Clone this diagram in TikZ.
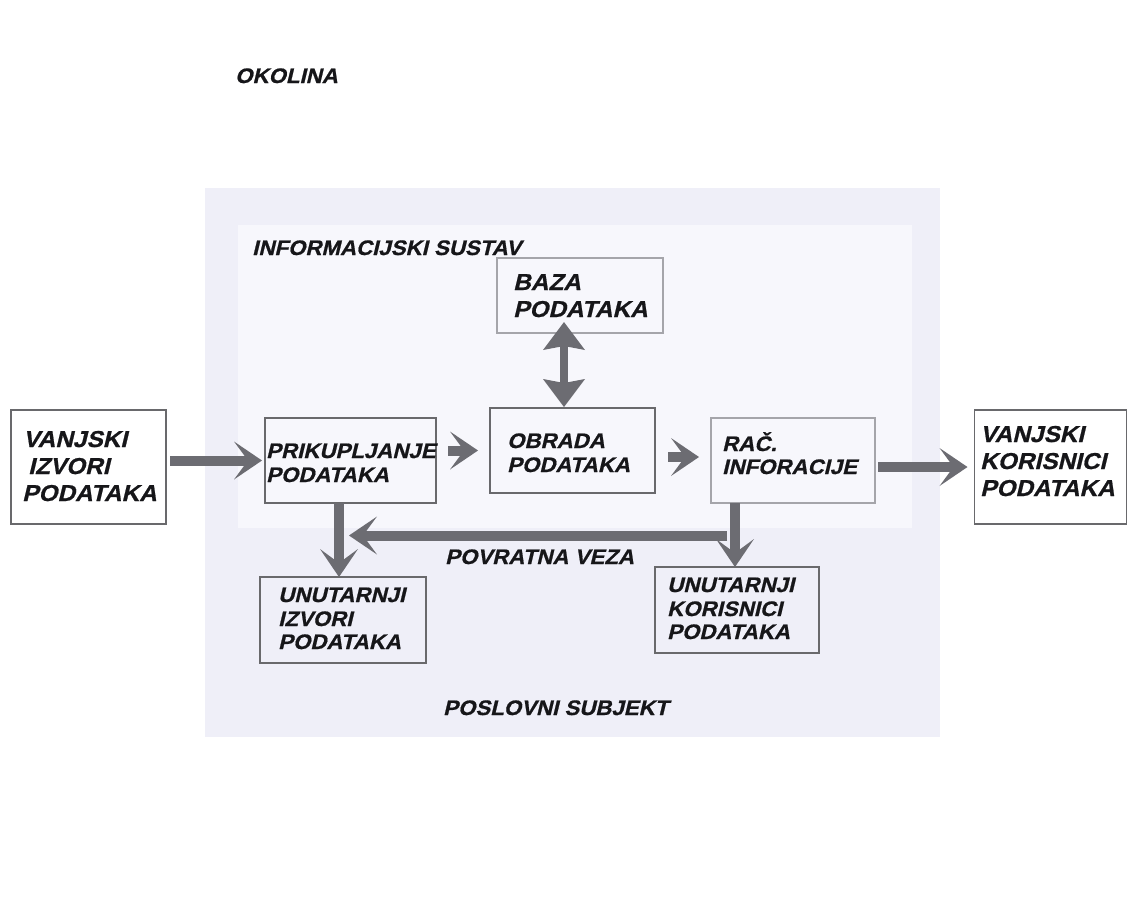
\documentclass[tikz,border=0pt]{standalone}
\usepackage{fontspec}
\newfontfamily\lblfont[FakeSlant=0.24,FakeStretch=1.06,FakeBold=0.8]{Liberation Sans}
\usetikzlibrary{arrows.meta,calc}
\definecolor{outerbg}{RGB}{239,239,248}
\definecolor{innerbg}{RGB}{247,247,252}
\definecolor{arrowgray}{RGB}{108,108,114}
\definecolor{boxline}{RGB}{105,105,108}
\definecolor{boxlight}{RGB}{165,165,170}
\definecolor{txt}{RGB}{22,22,25}
\begin{document}
\begin{tikzpicture}[x=1pt,y=-1pt,
  region/.style={inner sep=0pt,outer sep=0pt,draw=none},
  box/.style={draw=boxline,line width=1.8pt,inner sep=0pt,outer sep=0pt},
  lightbox/.style={draw=boxlight,line width=1.5pt,inner sep=0pt,outer sep=0pt},
  lbl/.style={anchor=base west,inner sep=0pt,text=txt,font=\lblfont\bfseries\fontsize{21}{24}\selectfont},
  biglbl/.style={lbl,font=\lblfont\bfseries\fontsize{23}{27}\selectfont},
  bigarrow/.style={draw=arrowgray,line width=10pt,-{Stealth[length=28pt,width=38pt,inset=14pt,line width=0pt]}},
  dblarrow/.style={draw=arrowgray,line width=8pt,{Stealth[length=28pt,width=42pt,inset=4pt,line width=0pt]}-{Stealth[length=28pt,width=42pt,inset=4pt,line width=0pt]}}
]
\useasboundingbox (0,0) rectangle (1128,906);
\fill[white] (0,0) rectangle (1128,906);

% regions
\node[region,fill=outerbg,minimum width=735pt,minimum height=549pt] (subj) at (572.5,462.5) {};
\node[region,fill=innerbg,minimum width=674pt,minimum height=303pt] (sys) at (575,376.5) {};

% boxes
\node[box,fill=white,minimum width=155pt,minimum height=114pt] (vi) at (88.5,467) {};
\node[box,minimum width=171pt,minimum height=85pt] (pr) at (350.5,460.5) {};
\node[lightbox,minimum width=166pt,minimum height=75pt] (baza) at (580,295.5) {};
\node[box,minimum width=165pt,minimum height=85pt] (ob) at (572.5,450.5) {};
\node[lightbox,minimum width=164pt,minimum height=85pt] (rac) at (793,460.5) {};
\node[box,fill=white,minimum width=152pt,minimum height=114pt] (vk) at (1050.5,467) {};
\node[box,minimum width=166pt,minimum height=86pt] (ui) at (343,620) {};
\node[box,minimum width=164pt,minimum height=86pt] (uk) at (737,610) {};

% labels
\node[lbl] (okolina) at (235,83) {OKOLINA};
\node[lbl] (sustav) at (252,255) {INFORMACIJSKI SUSTAV};
\node[lbl] (povratna) at (445,564) {POVRATNA VEZA};
\node[lbl] (subjekt) at (443,715) {POSLOVNI SUBJEKT};

\node[biglbl] (vi1) at (23,447) {VANJSKI};
\node[biglbl] (vi2) at (28,474) {IZVORI};
\node[biglbl] (vi3) at (22,501) {PODATAKA};

\node[lbl] (pr1) at (266,458) {PRIKUPLJANJE};
\node[lbl] (pr2) at (266,482) {PODATAKA};

\node[biglbl] (baza1) at (513,290) {BAZA};
\node[biglbl] (baza2) at (513,317) {PODATAKA};

\node[lbl] (ob1) at (507,448) {OBRADA};
\node[lbl] (ob2) at (507,472) {PODATAKA};

\node[lbl] (rac1) at (722,451) {RAČ.};
\node[lbl] (rac2) at (722,474) {INFORACIJE};

\node[biglbl] (vk1) at (980,442) {VANJSKI};
\node[biglbl] (vk2) at (980,469) {KORISNICI};
\node[biglbl] (vk3) at (980,496) {PODATAKA};

\node[lbl] (ui1) at (278,602) {UNUTARNJI};
\node[lbl] (ui2) at (278,626) {IZVORI};
\node[lbl] (ui3) at (278,649) {PODATAKA};

\node[lbl] (uk1) at (667,592) {UNUTARNJI};
\node[lbl] (uk2) at (667,616) {KORISNICI};
\node[lbl] (uk3) at (667,639) {PODATAKA};

% connectors
\draw[bigarrow,shorten <=4pt,shorten >=3pt] (vi.east |- pr.west) -- (pr.west);
\draw[bigarrow,shorten <=12pt,shorten >=12pt] (pr.east |- ob.west) -- (ob.west);
\coordinate (a1) at ($(ob.east)+(0,6.5)$);
\draw[bigarrow,shorten <=13pt,shorten >=12pt] (a1) -- (a1 -| rac.west);
\draw[bigarrow,shorten <=3pt,shorten >=7pt] (rac.east |- vk.west) -- (vk.west);
\coordinate (d1) at ($(baza.south)+(-16,0)$);
\draw[dblarrow,shorten <=-11pt,shorten >=1pt] (d1) -- (d1 |- ob.north);
\coordinate (l1) at ($(pr.south)+(-11.5,0)$);
\draw[bigarrow] (l1) -- (l1 |- ui.north);
\coordinate (r1) at ($(rac.south)+(-58,0)$);
\draw[bigarrow] (r1) -- (r1 |- uk.north);
\coordinate (fbs) at ($(r1)+(-8,32.5)$);
\draw[bigarrow,shorten >=10pt] (fbs) -- (fbs -| l1);
\end{tikzpicture}
\end{document}
